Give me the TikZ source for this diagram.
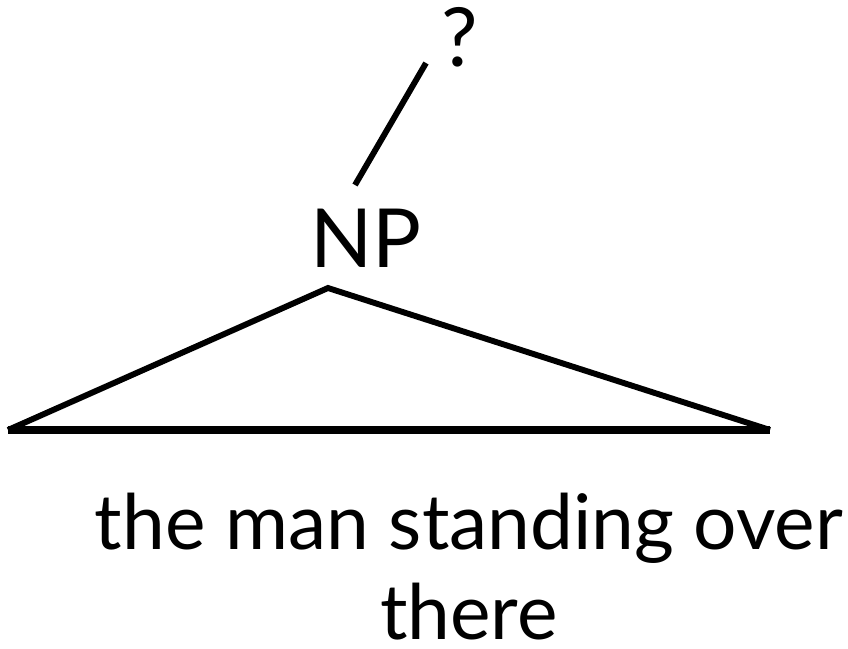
\documentclass[tikz,border=0pt]{standalone}
\usepackage{fontspec}
\setmainfont{Lato}
\usepackage{xcolor}
\usepackage{tikz}
\definecolor{treeInk}{HTML}{000000}

\begin{document}
\begin{tikzpicture}[x=0.025cm,y=-0.025cm]
  \useasboundingbox (0,0) rectangle (848,649);

  \coordinate (apex) at (328,288);
  \coordinate (left) at (8,430);
  \coordinate (right) at (770,430);
  \coordinate (stemlow) at (355,185);
  \coordinate (stemhigh) at (426,63);

  \node[font=\fontsize{58}{68}\selectfont, inner sep=0pt] (np) at (366,238) {NP};
  \node[font=\fontsize{58}{68}\selectfont, inner sep=0pt] (query) at (460,37) {?};
  \node[font=\fontsize{54.5}{64}\selectfont, align=center, inner sep=0pt, anchor=north]
    (phrase) at (469,493) {the man standing over\\there};

  \draw[treeInk, line width=4.2pt] (stemlow) -- (stemhigh);
  \draw[treeInk, line width=4.2pt, line join=miter] (left) -- (apex) -- (right);
  \draw[treeInk, line width=5pt] (left) -- (right);
\end{tikzpicture}
\end{document}
